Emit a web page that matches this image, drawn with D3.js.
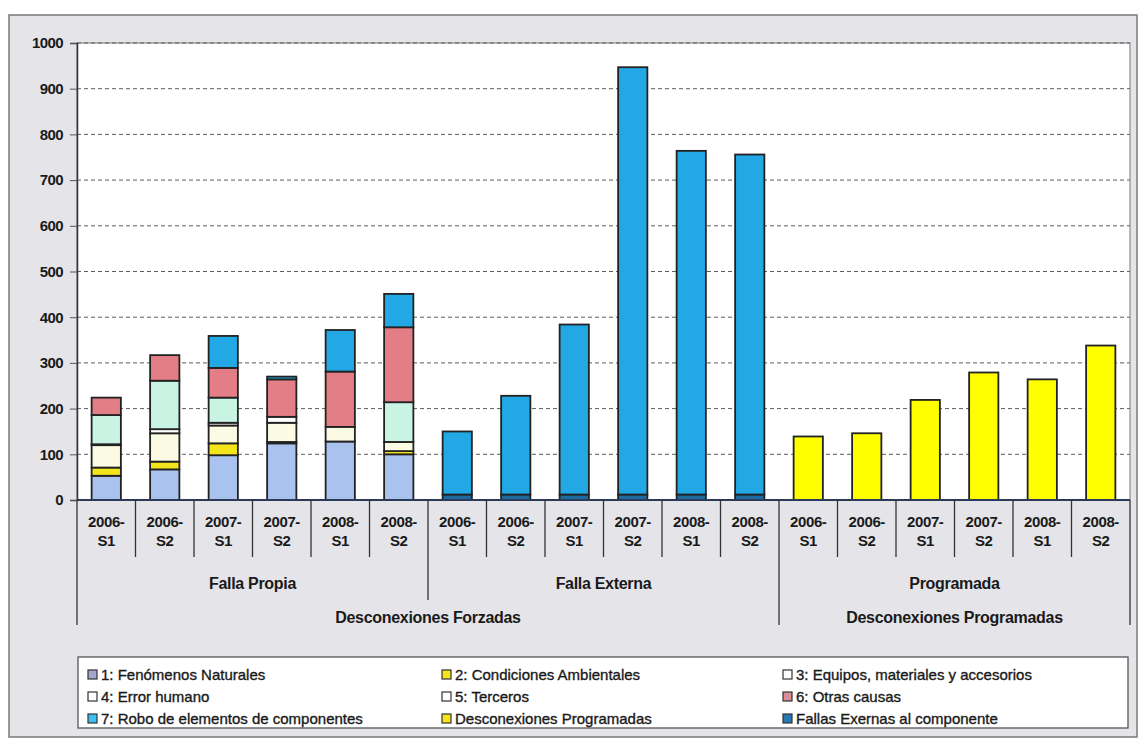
<!DOCTYPE html>
<html>
<head>
<meta charset="utf-8">
<script src="https://cdn.jsdelivr.net/npm/d3@7"></script>
<style>
  html, body { margin: 0; padding: 0; background: #ffffff; }
  svg { display: block; font-family: "Liberation Sans", Arial, sans-serif; }
</style>
</head>
<body>
<svg id="chart" width="1140" height="740"></svg>
<script>
// ---------- DATA ----------
const periods = ["2006-S1", "2006-S2", "2007-S1", "2007-S2", "2008-S1", "2008-S2"];
const groups = ["Falla Propia", "Falla Externa", "Programada"];
const topGroups = ["Desconexiones Forzadas", "Desconexiones Programadas"];
const topGroupSpans = [2, 1]; // number of groups each top-level label covers
const yTicks = [0, 100, 200, 300, 400, 500, 600, 700, 800, 900, 1000];

// series values, one per bar (6 Falla Propia, 6 Falla Externa, 6 Programada)
const fallasExternas     = [0, 0, 0, 0, 0, 0,   12, 12, 12, 12, 12, 12,   0, 0, 0, 0, 0, 0];
const fenomenos          = [53, 67, 98, 124, 128, 100,   0, 0, 0, 0, 0, 0,   0, 0, 0, 0, 0, 0];
const condiciones        = [18, 17, 26, 3, 0, 7,   0, 0, 0, 0, 0, 0,   0, 0, 0, 0, 0, 0];
const equipos            = [49, 62, 39, 42, 32, 20,   0, 0, 0, 0, 0, 0,   0, 0, 0, 0, 0, 0];
const errorHumano        = [2, 9, 6, 13, 0, 0,   0, 0, 0, 0, 0, 0,   0, 0, 0, 0, 0, 0];
const terceros           = [64, 106, 55, 0, 0, 87,   0, 0, 0, 0, 0, 0,   0, 0, 0, 0, 0, 0];
const otrasCausas        = [38, 56, 65, 82, 121, 164,   0, 0, 0, 0, 0, 0,   0, 0, 0, 0, 0, 0];
const robo               = [0, 0, 70, 6, 91, 73,   138, 216, 372, 935, 752, 744,   0, 0, 0, 0, 0, 0];
const descProgramadas    = [0, 0, 0, 0, 0, 0,   0, 0, 0, 0, 0, 0,   139, 146, 219, 279, 264, 338];

const seriesNames = ["1: Fenómenos Naturales", "2: Condiciones Ambientales", "3: Equipos, materiales y accesorios",
  "4: Error humano", "5: Terceros", "6: Otras causas",
  "7: Robo de elementos de componentes", "Desconexiones Programadas", "Fallas Exernas al componente"];

// ---------- BUILD ----------
const seriesDefs = [
  { key: "ext", name: seriesNames[8], values: fallasExternas, color: "#1d6a9e" },
  { key: "s1", name: seriesNames[0], values: fenomenos, color: "#aac2ee" },
  { key: "s2", name: seriesNames[1], values: condiciones, color: "#f4e41c" },
  { key: "s3", name: seriesNames[2], values: equipos, color: "#fbfbe4" },
  { key: "s4", name: seriesNames[3], values: errorHumano, color: "#ffffff" },
  { key: "s5", name: seriesNames[4], values: terceros, color: "#c9f4e3" },
  { key: "s6", name: seriesNames[5], values: otrasCausas, color: "#e37e86" },
  { key: "s7", name: seriesNames[6], values: robo, color: "#22a8e4" },
  { key: "dp", name: seriesNames[7], values: descProgramadas, color: "#ffff00" }
];
const legendColor = {
  [seriesNames[0]]: "#a6a6cc", [seriesNames[1]]: "#f4e41c", [seriesNames[2]]: "#ffffff",
  [seriesNames[3]]: "#ffffff", [seriesNames[4]]: "#ffffff", [seriesNames[5]]: "#d98f98",
  [seriesNames[6]]: "#3cc0ee", [seriesNames[7]]: "#f4e41c", [seriesNames[8]]: "#2a78b0"
};

const rows = [];
groups.forEach((g, gi) => periods.forEach((p, pi) => {
  const idx = gi * periods.length + pi;
  const row = { id: g + "|" + p, group: g, period: p };
  seriesDefs.forEach(s => row[s.key] = s.values[idx]);
  rows.push(row);
}));

const stack = d3.stack().keys(seriesDefs.map(s => s.key));
const stacked = stack(rows);

// ---------- LAYOUT ----------
const svg = d3.select("#chart");
const plot = { left: 77, right: 1130, top: 43, bottom: 500 };
const ink = "#1a1a1a";

svg.append("rect").attr("x", 9).attr("y", 15).attr("width", 1128).attr("height", 722)
  .attr("fill", "#e5e5e9").attr("stroke", "#7a7a7a").attr("stroke-width", 1.5);

const x = d3.scaleBand().domain(rows.map(r => r.id))
  .range([plot.left, plot.right]).paddingInner(0.5).paddingOuter(0.25);
const step = x.step();
const y = d3.scaleLinear().domain([0, 1000]).range([plot.bottom, plot.top]);

svg.append("rect").attr("x", plot.left).attr("y", plot.top)
  .attr("width", plot.right - plot.left).attr("height", plot.bottom - plot.top)
  .attr("fill", "#ffffff").attr("stroke", "#8a8a8a").attr("stroke-width", 1.2);

// gridlines
svg.append("g").selectAll("line").data(yTicks.filter(t => t > 0)).join("line")
  .attr("x1", plot.left).attr("x2", plot.right)
  .attr("y1", d => y(d)).attr("y2", d => y(d))
  .attr("stroke", "#5e5e5e").attr("stroke-width", 1).attr("stroke-dasharray", "4,3");

// y axis
const yAxis = d3.axisLeft(y).tickValues(yTicks).tickSize(7).tickPadding(7).tickFormat(d3.format("d"));
const yg = svg.append("g").attr("transform", `translate(${plot.left},0)`).call(yAxis);
yg.select(".domain").attr("stroke", "#333").attr("stroke-width", 1.5);
yg.selectAll(".tick line").attr("stroke", "#555");
yg.selectAll(".tick text").attr("font-size", 15).attr("font-weight", "bold").attr("fill", ink)
  .attr("font-family", "Liberation Sans, Arial, sans-serif").attr("letter-spacing", "-0.6");

// bars
svg.append("g").selectAll("g").data(stacked).join("g")
  .attr("fill", (d, i) => seriesDefs[i].color)
  .selectAll("rect").data(d => d.filter(e => e[1] - e[0] > 0)).join("rect")
  .attr("x", d => x(d.data.id))
  .attr("width", x.bandwidth())
  .attr("y", d => y(d[1]))
  .attr("height", d => y(d[0]) - y(d[1]))
  .attr("stroke", "#222").attr("stroke-width", 1.8);

// x axis line
svg.append("line").attr("x1", plot.left).attr("x2", plot.right)
  .attr("y1", plot.bottom).attr("y2", plot.bottom)
  .attr("stroke", "#2c3a5a").attr("stroke-width", 2);

// category separators and labels
const catG = svg.append("g");
rows.forEach((r, i) => {
  const left = x(r.id) - step * 0.25;
  const isGroupStart = i % periods.length === 0;
  const gi = Math.floor(i / periods.length);
  let bottomY = 557;
  if (isGroupStart) bottomY = (i === 0 || gi === 2) ? 625 : 600;
  catG.append("line").attr("x1", left).attr("x2", left).attr("y1", plot.bottom)
    .attr("y2", bottomY).attr("stroke", "#333").attr("stroke-width", 1.3);
  const cx = x(r.id) + x.bandwidth() / 2;
  const parts = r.period.split("-");
  const t = catG.append("text").attr("x", cx).attr("text-anchor", "middle")
    .attr("font-size", 15).attr("font-weight", "bold").attr("fill", ink).attr("letter-spacing", "-0.4");
  t.append("tspan").attr("x", cx).attr("y", 527).text(parts[0] + "-");
  t.append("tspan").attr("x", cx).attr("y", 546).text(parts[1]);
});
catG.append("line").attr("x1", plot.right).attr("x2", plot.right).attr("y1", plot.bottom)
  .attr("y2", 625).attr("stroke", "#333").attr("stroke-width", 1.3);

// group labels
groups.forEach((g, gi) => {
  const first = x(rows[gi * periods.length].id) - step * 0.25;
  const last = x(rows[gi * periods.length + periods.length - 1].id) + x.bandwidth() + step * 0.25;
  svg.append("text").attr("x", (first + last) / 2).attr("y", 589).attr("text-anchor", "middle")
    .attr("font-size", 16).attr("font-weight", "bold").attr("fill", ink).attr("letter-spacing", "-0.3")
    .text(g);
});
let gStart = 0;
topGroups.forEach((tg, ti) => {
  const gEnd = gStart + topGroupSpans[ti];
  const first = x(rows[gStart * periods.length].id) - step * 0.25;
  const last = x(rows[gEnd * periods.length - 1].id) + x.bandwidth() + step * 0.25;
  svg.append("text").attr("x", (first + last) / 2).attr("y", 623).attr("text-anchor", "middle")
    .attr("font-size", 16).attr("font-weight", "bold").attr("fill", ink).attr("letter-spacing", "-0.3")
    .text(tg);
  gStart = gEnd;
});

// legend
const legend = svg.append("g");
legend.append("rect").attr("x", 78).attr("y", 657).attr("width", 1050).attr("height", 71)
  .attr("fill", "#ffffff").attr("stroke", "#555").attr("stroke-width", 1.3);
const legendCols = [88, 442, 783];
const legendRows = [675, 697, 719];
seriesNames.forEach((n, i) => {
  const cx = legendCols[i % 3], cy = legendRows[Math.floor(i / 3)];
  legend.append("rect").attr("x", cx).attr("y", cy - 5).attr("width", 9).attr("height", 9)
    .attr("fill", legendColor[n]).attr("stroke", "#333").attr("stroke-width", 1.2);
  legend.append("text").attr("x", cx + 13).attr("y", cy + 5).attr("font-size", 15)
    .attr("fill", ink).attr("stroke", ink).attr("stroke-width", 0.35).text(n);
});
</script>
</body>
</html>
